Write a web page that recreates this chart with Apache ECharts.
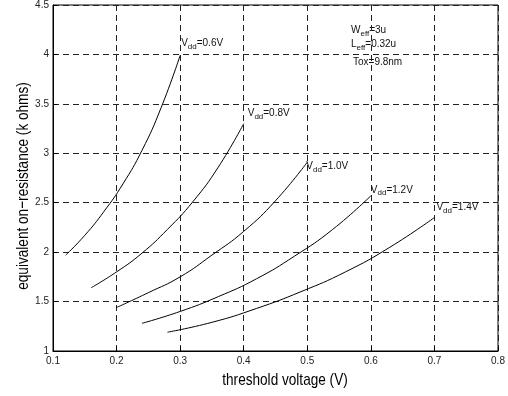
<!DOCTYPE html>
<html>
<head>
<meta charset="utf-8">
<script src="https://cdn.jsdelivr.net/npm/echarts@6/dist/echarts.min.js"></script>
<style>
html,body{margin:0;padding:0;background:#fff;}
#chart{width:508px;height:396px;}
</style>
</head>
<body>
<div id="chart"></div>
<script>
// threshold voltage (V) and resistance (k ohms)
var vt06 = [0.12, 0.15, 0.18, 0.21, 0.24, 0.27, 0.30];
var r06  = [1.97, 2.17, 2.41, 2.69, 3.03, 3.46, 3.99];
var vt08 = [0.16, 0.20, 0.24, 0.28, 0.32, 0.36, 0.40];
var r08  = [1.64, 1.80, 1.99, 2.23, 2.51, 2.86, 3.30];
var vt10 = [0.20, 0.25, 0.30, 0.35, 0.40, 0.45, 0.50];
var r10  = [1.44, 1.59, 1.75, 1.97, 2.21, 2.52, 2.91];
var vt12 = [0.24, 0.30, 0.36, 0.42, 0.48, 0.54, 0.60];
var r12  = [1.28, 1.40, 1.55, 1.73, 1.96, 2.23, 2.57];
var vt14 = [0.28, 0.35, 0.42, 0.49, 0.56, 0.63, 0.70];
var r14  = [1.19, 1.29, 1.43, 1.60, 1.80, 2.05, 2.35];

var vddNames = ['0.6V', '0.8V', '1.0V', '1.2V', '1.4V'];
var xTicks = [0.1, 0.8, 0.1];   // min, max, step
var yTicks = [1, 4.5, 0.5];

var chart = echarts.init(document.getElementById('chart'));

var tickFont = 'Liberation Sans, Arial, sans-serif';

// offsets of the Vdd labels from the end of each curve (px)
var labelOffsets = [[1, -12], [4, -10], [-1, 4], [0, -6], [2, -10]];

function pairs(xs, ys){
	return xs.map(function(x, i){ return [x, ys[i]]; });
}

function curve(xs, ys, idx){
	var last = [xs[xs.length-1], ys[ys.length-1]];
	return {
		type: 'line',
		smooth: true,
		showSymbol: false,
		data: pairs(xs, ys),
		lineStyle: {color: '#000', width: 1},
		silent: true,
		markPoint: {
			symbol: 'circle',
			symbolSize: 0,
			silent: true,
			data: [{
				coord: last,
				label: {
					show: true,
					position: 'right',
					distance: 0,
					offset: labelOffsets[idx],
					formatter: '{a|V}{b|dd}{a|=' + vddNames[idx] + '}',
					rich: {
						a: {fontFamily: tickFont, fontSize: 10, color: '#111'},
						b: {fontFamily: tickFont, fontSize: 8, color: '#111', padding: [7, 0, 0, 0]}
					}
				}
			}]
		}
	};
}

var subRich = {
	a: {fontFamily: tickFont, fontSize: 10, fill: '#111'},
	b: {fontFamily: tickFont, fontSize: 8, fill: '#111', padding: [7, 0, 0, 0]}
};

var opt = {
	animation: false,
	grid: {
		left: 53, right: 10, top: 5, bottom: 45,
		show: true, borderColor: '#000', borderWidth: 1
	},
	xAxis: {
		type: 'value',
		min: xTicks[0], max: xTicks[1], interval: xTicks[2],
		axisLine: {show: true, lineStyle: {color: '#000', width: 1}},
		axisTick: {show: true, inside: true, length: 4, lineStyle: {color: '#000'}},
		axisLabel: {fontFamily: tickFont, fontSize: 10, color: '#222', margin: 5,
			formatter: function(v){ return v.toFixed(1); }},
		splitLine: {show: true, lineStyle: {color: '#222', type: [6, 4], width: 1}}
	},
	yAxis: {
		type: 'value',
		min: yTicks[0], max: yTicks[1], interval: yTicks[2],
		axisLine: {show: true, lineStyle: {color: '#000', width: 1}},
		axisTick: {show: true, inside: true, length: 4, lineStyle: {color: '#000'}},
		axisLabel: {fontFamily: tickFont, fontSize: 10, color: '#222', margin: 4},
		splitLine: {show: true, lineStyle: {color: '#222', type: [6, 4], width: 1}}
	},
	graphic: [
		// axis titles, squeezed to match the narrow font of the original
		{type: 'text', x: 285, y: 380, scaleX: 0.8, style: {
			text: 'threshold voltage (V)', align: 'center', verticalAlign: 'middle',
			fontFamily: tickFont, fontSize: 17, fill: '#000'
		}},
		{type: 'text', x: 23, y: 186, rotation: Math.PI / 2, scaleX: 0.8, style: {
			text: 'equivalent on\u2212resistance (k ohms)', align: 'center', verticalAlign: 'middle',
			fontFamily: tickFont, fontSize: 17, fill: '#000'
		}},
		{type: 'text', left: 351, top: 25, style: {text: '{a|W}{b|eff}{a|=3u}', rich: subRich}},
		{type: 'text', left: 351, top: 39, style: {text: '{a|L}{b|eff}{a|=0.32u}', rich: subRich}},
		{type: 'text', left: 353, top: 57, style: {
			text: 'Tox=9.8nm', fontFamily: tickFont, fontSize: 10, fill: '#111'
		}}
	],
	series: [
		curve(vt06, r06, 0),
		curve(vt08, r08, 1),
		curve(vt10, r10, 2),
		curve(vt12, r12, 3),
		curve(vt14, r14, 4)
	]
};
chart.setOption(opt);
</script>
</body>
</html>
